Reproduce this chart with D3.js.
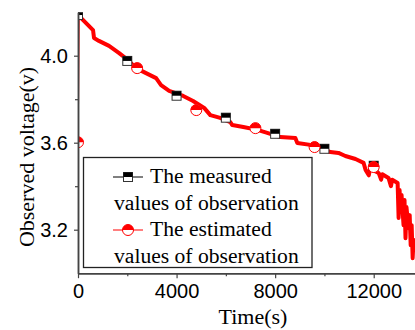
<!DOCTYPE html>
<html>
<head>
<meta charset="utf-8">
<script src="https://cdn.jsdelivr.net/npm/d3@7"></script>
<style>
  body { margin: 0; background: #fff; }
</style>
</head>
<body>
<div id="chart"></div>
<script>
var width = 415
var height = 330

// measured values (squares)
var measTime = [0, 2000, 4000, 6000, 8000, 10000, 12000]
var measVolt = [4.187, 3.976, 3.816, 3.715, 3.641, 3.572, 3.494]

// estimated values, markers (circles)
var estMarkTime = [0, 2400, 4800, 7200, 9600, 12000]
var estMarkVolt = [3.602, 3.943, 3.75, 3.667, 3.58, 3.488]

// estimated values, traced curve
var estTime = [0, 40, 610, 650, 850, 1260, 1670, 2030, 2360, 2760, 3170, 3370, 3700, 4270, 4670, 5120,
  5370, 5770, 6180, 6260, 6710, 7280, 7680, 8210, 8820, 8900, 9430, 9840, 10240, 10570, 10850,
  11260, 11590, 11670, 11800, 11850, 12200, 12300, 12350, 12600, 12700, 12750, 12970,
  13010, 13050, 13090, 13130, 13210, 13250, 13290, 13330, 13410, 13460, 13500, 13540, 13580, 13620]
var estVolt = [3.602, 4.183, 4.118, 4.081, 4.068, 4.045, 4.012, 3.980, 3.943, 3.920, 3.897, 3.865, 3.838, 3.815, 3.792, 3.760,
  3.727, 3.714, 3.695, 3.681, 3.672, 3.659, 3.645, 3.626, 3.622, 3.599, 3.590, 3.576, 3.557, 3.553, 3.539,
  3.525, 3.507, 3.475, 3.450, 3.480, 3.461, 3.430, 3.455, 3.438, 3.400, 3.430, 3.415,
  3.254, 3.382, 3.281, 3.360, 3.221, 3.336, 3.161, 3.304, 3.207, 3.267, 3.129, 3.221, 3.069, 3.161]

var xMajor = [0, 4000, 8000, 12000]
var xMinor = [2000, 6000, 10000]
var yMajor = [3.2, 3.6, 4.0]
var yMinor = [3.4, 3.8]

var legendLabels = [["The measured", "values of observation"], ["The estimated", "values of observation"]]

var plotLeft = 78, plotRight = 423, plotTop = 12.2, plotBottom = 273.2

var x = d3.scaleLinear().domain([0, 14000]).range([plotLeft, plotRight])
var y = d3.scaleLinear().domain([3.0, 4.2]).range([plotBottom, plotTop])

var svg = d3.select("#chart")
    .append("svg")
    .attr("width", width)
    .attr("height", height)
    .style("font-family", "'Liberation Serif', 'Times New Roman', serif")

svg.append("clipPath").attr("id", "plot")
    .append("rect")
    .attr("x", plotLeft).attr("y", plotTop)
    .attr("width", plotRight - plotLeft).attr("height", plotBottom - plotTop)

var plot = svg.append("g").attr("clip-path", "url(#plot)")

var estPts = estTime.map(function(t, i) { return [t, estVolt[i]] })
var line = d3.line().x(function(d) { return x(d[0]) }).y(function(d) { return y(d[1]) })

// thin start segment, thick noisy band for the rest
plot.append("path")
    .attr("d", line(estPts))
    .attr("fill", "none")
    .attr("stroke", "red")
    .attr("stroke-width", 1.5)
plot.append("path")
    .attr("d", line(estPts.slice(1)))
    .attr("fill", "none")
    .attr("stroke", "red")
    .attr("stroke-width", 4)
    .attr("stroke-linejoin", "round")

// half-filled square
function square(g, cx, cy) {
    var s = 9
    g.append("rect").attr("x", cx - s / 2).attr("y", cy - s / 2).attr("width", s).attr("height", s)
        .attr("fill", "#fff").attr("stroke", "#333").attr("stroke-width", 1)
    g.append("rect").attr("x", cx - s / 2).attr("y", cy - s / 2).attr("width", s).attr("height", s / 2)
        .attr("fill", "#000")
}

// half-filled circle
function circle(g, cx, cy) {
    var r = 5.5
    g.append("circle").attr("cx", cx).attr("cy", cy).attr("r", r)
        .attr("fill", "#fff").attr("stroke", "red").attr("stroke-width", 1)
    g.append("path")
        .attr("d", "M" + (cx - r) + "," + cy + " A" + r + "," + r + " 0 0 1 " + (cx + r) + "," + cy + " Z")
        .attr("fill", "red")
}

measTime.forEach(function(t, i) { square(plot, x(t), y(measVolt[i])) })
estMarkTime.forEach(function(t, i) { circle(plot, x(t), y(estMarkVolt[i])) })

// axes
var tickFont = "'Liberation Sans', Arial, sans-serif"

function styleAxis(g) {
    g.select(".domain").attr("stroke", "#444").attr("stroke-width", 1.5)
    g.selectAll(".tick line").attr("stroke", "#444").attr("stroke-width", 1.2)
    g.selectAll("text").attr("fill", "#000").style("font-family", tickFont).style("font-size", "20px")
}

svg.append("g")
    .attr("transform", "translate(0," + plotBottom + ")")
    .call(d3.axisBottom(x).tickValues(xMinor).tickFormat("").tickSize(3).tickSizeOuter(0))
    .call(styleAxis)
svg.append("g")
    .attr("transform", "translate(0," + plotBottom + ")")
    .call(d3.axisBottom(x).tickValues(xMajor).tickFormat(d3.format("d")).tickSize(5).tickPadding(6).tickSizeOuter(0))
    .call(styleAxis)

svg.append("g")
    .attr("transform", "translate(" + plotLeft + ",0)")
    .call(d3.axisLeft(y).tickValues(yMinor).tickFormat("").tickSize(3).tickSizeOuter(0))
    .call(styleAxis)
svg.append("g")
    .attr("transform", "translate(" + plotLeft + ",0)")
    .call(d3.axisLeft(y).tickValues(yMajor).tickFormat(d3.format(".1f")).tickSize(4).tickPadding(6).tickSizeOuter(0))
    .call(styleAxis)

// axis titles
svg.append("text")
    .attr("x", 253).attr("y", 324)
    .attr("text-anchor", "middle")
    .style("font-size", "22px")
    .text("Time(s)")

svg.append("text")
    .attr("transform", "translate(34,157) rotate(-90)")
    .attr("text-anchor", "middle")
    .style("font-size", "22px")
    .text("Observed voltage(v)")

// legend
var legend = svg.append("g")
legend.append("rect")
    .attr("x", 83.5).attr("y", 157.5).attr("width", 228.5).attr("height", 110)
    .attr("fill", "#fff").attr("stroke", "#222").attr("stroke-width", 1.3)

var rowY = [177, 230]
var rowColor = ["#000", "red"]
legendLabels.forEach(function(lbl, i) {
    legend.append("line")
        .attr("x1", 113).attr("x2", 143).attr("y1", rowY[i]).attr("y2", rowY[i])
        .attr("stroke", rowColor[i]).attr("stroke-width", 1)
    if (i == 0) square(legend, 128, rowY[i])
    else circle(legend, 128, rowY[i])
    legend.append("text")
        .attr("x", 150).attr("y", rowY[i] + 6)
        .style("font-size", "21.6px")
        .text(lbl[0])
    legend.append("text")
        .attr("x", 114).attr("y", rowY[i] + 33)
        .style("font-size", "21.6px")
        .text(lbl[1])
})
</script>
</body>
</html>
